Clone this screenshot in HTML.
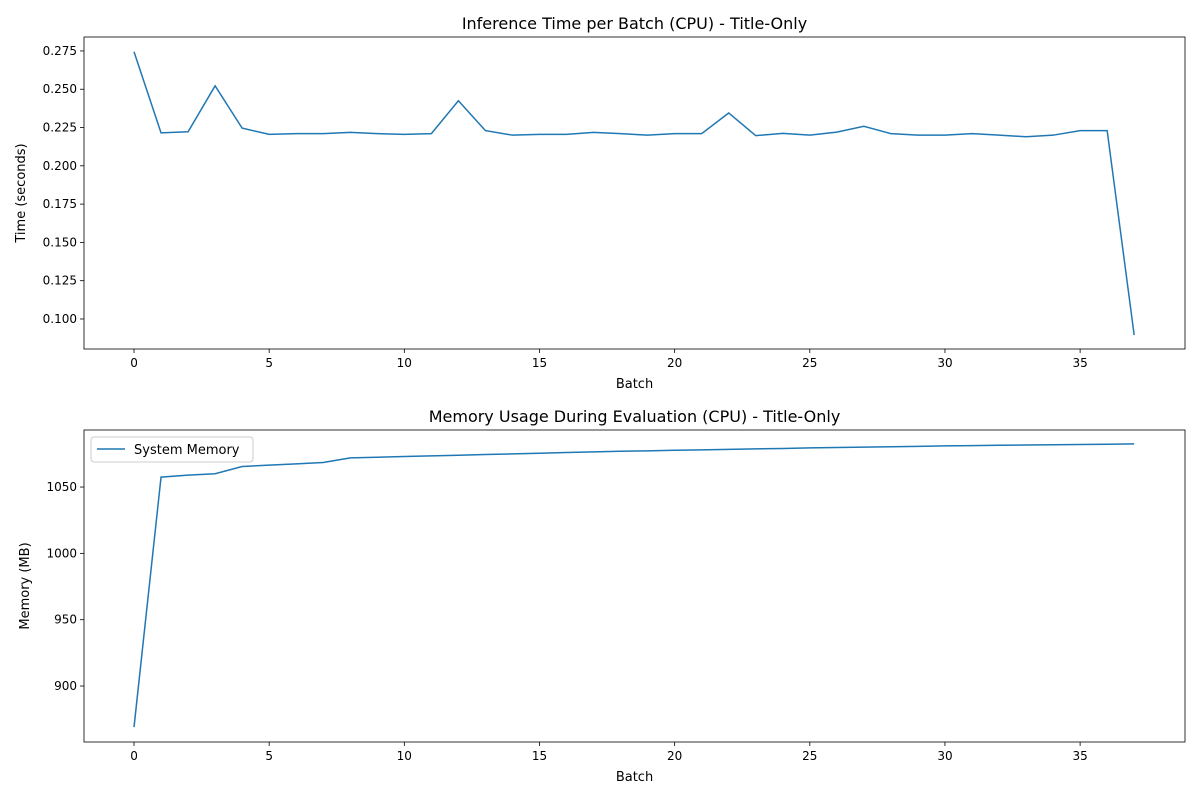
<!DOCTYPE html>
<html><head><meta charset="utf-8"><style>
body{margin:0;background:#fff;font-family:"Liberation Sans","DejaVu Sans",sans-serif}
svg text{font-family:"DejaVu Sans","Liberation Sans",sans-serif;fill:#000}
</style></head><body>
<svg id="c" width="1200" height="800" xmlns="http://www.w3.org/2000/svg"></svg>
<script>
const batches=[...Array(38).keys()];
const timeValues=[0.2745,0.2215,0.2222,0.2522,0.2246,0.2205,0.221,0.221,0.2218,0.221,0.2205,0.221,0.2425,0.223,0.220,0.2205,0.2205,0.2218,0.221,0.220,0.221,0.221,0.2345,0.2197,0.2212,0.220,0.222,0.2258,0.221,0.220,0.220,0.221,0.220,0.219,0.220,0.223,0.223,0.0895];
const memValues=[869,1057.5,1059,1060,1065.5,1066.5,1067.5,1068.5,1072,1072.5,1073,1073.5,1074,1074.5,1075,1075.5,1076,1076.5,1077,1077.3,1077.7,1078,1078.4,1078.8,1079.1,1079.5,1079.8,1080.1,1080.4,1080.7,1081,1081.2,1081.5,1081.7,1081.9,1082.1,1082.3,1082.5];
const xTicks=[0,5,10,15,20,25,30,35];
const timeTicks=[0.100,0.125,0.150,0.175,0.200,0.225,0.250,0.275];
const memTicks=[900,950,1000,1050];
const NS="http://www.w3.org/2000/svg";
const svg=document.getElementById('c');
function mk(tag,attrs,parent){const e=document.createElementNS(NS,tag);for(const k in attrs)e.setAttribute(k,attrs[k]);(parent||svg).appendChild(e);return e;}
function panel(o){
  const g=mk('g',{});
  
  
  const xs=v=>o.L+(v-o.xmin)/(o.xmax-o.xmin)*(o.R-o.L);
  const ys=v=>o.B-(v-o.ymin)/(o.ymax-o.ymin)*(o.B-o.T);
  xTicks.forEach(t=>{const x=xs(t);mk('line',{x1:x,x2:x,y1:o.B,y2:o.B+4,stroke:'#000','stroke-width':0.8},g);
    const tx=mk('text',{x:x,y:o.B+18,'text-anchor':'middle','font-size':12},g);tx.textContent=t;
    
    });
  o.yticks.forEach(t=>{const y=ys(t);mk('line',{x1:o.L-4,x2:o.L,y1:y,y2:y,stroke:'#000','stroke-width':0.8},g);
    const tx=mk('text',{x:o.L-7,y:y+4,'text-anchor':'end','font-size':12},g);tx.textContent=o.fmt(t);
    
    });
  const p=mk('polyline',{points:batches.map((b,i)=>xs(b)+','+ys(o.vals[i])).join(' '),fill:'none',stroke:'#1f77b4','stroke-width':1.5},g);
  
  
  mk('rect',{x:o.L,y:o.T,width:o.R-o.L,height:o.B-o.T,fill:'none',stroke:'#000','stroke-width':0.8},g);
  const ti=mk('text',{x:(o.L+o.R)/2,y:o.T-8,'text-anchor':'middle','font-size':16},g);ti.textContent=o.title;
  
  
  const xl=mk('text',{x:(o.L+o.R)/2,y:o.B+39,'text-anchor':'middle','font-size':13},g);xl.textContent='Batch';
  
  
  const cy=(o.T+o.B)/2;
  const yl=mk('text',{x:o.ylx,y:cy,'text-anchor':'middle','font-size':13,transform:`rotate(-90 ${o.ylx} ${cy})`},g);yl.textContent=o.ylabel;
  
  
  return g;
}
panel({name:'time-panel',lineName:'time-line',L:84,R:1185,T:37,B:349,xmin:-1.85,xmax:38.88,ymin:0.0804,ymax:0.2841,yticks:timeTicks,fmt:t=>t.toFixed(3),vals:timeValues,title:'Inference Time per Batch (CPU) - Title-Only',ylabel:'Time (seconds)',ylx:25});
panel({name:'memory-panel',lineName:'system-memory-line',L:84,R:1185,T:430,B:742,xmin:-1.85,xmax:38.88,ymin:857.8,ymax:1093,yticks:memTicks,fmt:t=>String(t),vals:memValues,title:'Memory Usage During Evaluation (CPU) - Title-Only',ylabel:'Memory (MB)',ylx:29});
const lg=mk('g',{});


mk('rect',{x:91,y:437,width:162,height:25,rx:3,fill:'#fff',stroke:'#ccc','stroke-width':1},lg);
mk('line',{x1:97,x2:125,y1:449,y2:449,stroke:'#1f77b4','stroke-width':1.5},lg);
const lt=mk('text',{x:134,y:454,'font-size':13},lg);lt.textContent='System Memory';


</script>
</body></html>
